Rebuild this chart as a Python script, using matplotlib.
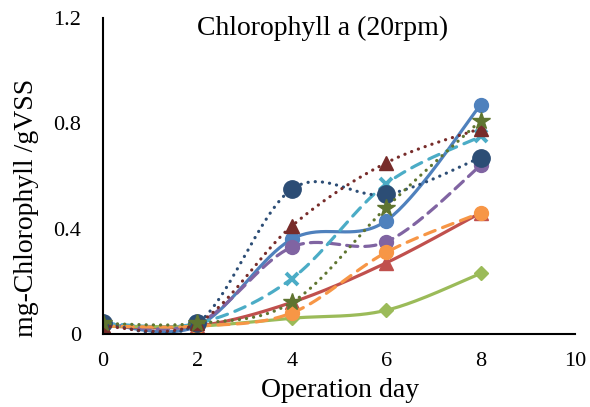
import matplotlib
matplotlib.use("Agg")
import matplotlib.pyplot as plt
import numpy as np

plt.rcParams['font.family'] = 'Liberation Serif'

days = [0, 2, 4, 6, 8]
blue = [0.04, 0.03, 0.36, 0.43, 0.87]
red = [0.03, 0.03, 0.12, 0.27, 0.46]
green = [0.03, 0.03, 0.06, 0.09, 0.23]
purple = [0.04, 0.04, 0.33, 0.35, 0.64]
cyan = [0.04, 0.04, 0.21, 0.57, 0.75]
orange = [0.03, 0.03, 0.08, 0.31, 0.46]
navy = [0.04, 0.04, 0.55, 0.53, 0.67]
maroon = [0.03, 0.04, 0.41, 0.65, 0.78]
olive = [0.04, 0.04, 0.12, 0.48, 0.81]


def smooth(xs, ys, n=40):
    # excel-ish smoothed line (bezier through points)
    pts = np.column_stack([xs, ys]).astype(float)
    p = np.vstack([pts[0], pts, pts[-1]])
    out = []
    t = np.linspace(0, 1, n)[:, None]
    for i in range(1, len(p) - 2):
        p0, p1, p2, p3 = p[i - 1], p[i], p[i + 1], p[i + 2]
        b1 = p1 + (p2 - p0) / 6
        b2 = p2 - (p3 - p1) / 6
        out.append((1 - t)**3 * p1 + 3 * (1 - t)**2 * t * b1 + 3 * (1 - t) * t**2 * b2 + t**3 * p2)
    return np.vstack(out)


fig = plt.figure(figsize=(5.9, 4.07), dpi=100)
ax = fig.add_axes([0.1746, 0.1794, 0.8, 0.7764])

lw = 2.3
series = [
    (blue, '#4F81BD', '-', 'o', 10),
    (red, '#C0504D', '-', '^', 9.5),
    (green, '#9BBB59', '-', 'D', 7.5),
    (purple, '#8064A2', (0, (3.5, 2.2)), 'o', 10),
    (cyan, '#4BACC6', (0, (3.5, 2.5)), 'x', 8),
    (orange, '#F79646', (0, (3.5, 2.5)), 'o', 10),
    (navy, '#2C4D75', (0, (0.05, 2.2)), 'o', 12.5),
    (maroon, '#772C2A', (0, (0.05, 2.2)), '^', 10),
    (olive, '#5F7530', (0, (0.05, 2.2)), '*', 13),
]

for vals, col, ls, mk, ms in series:
    c = smooth(days, vals)
    ax.plot(c[:, 0], c[:, 1], color=col, lw=lw, ls=ls, dash_capstyle='round')
    mew = 2.8 if mk == 'x' else 1
    ax.plot(days, vals, ls='none', marker=mk, ms=ms, color=col, mec=col, mew=mew)

ax.set_xlim(0, 10)
ax.set_ylim(0, 1.2)
ax.set_xticks([0, 2, 4, 6, 8, 10])
ax.set_yticks([0, 0.4, 0.8, 1.2])
ax.set_yticklabels(['0', '0.4', '0.8', '1.2'])
ax.tick_params(length=0, labelsize=16)
ax.tick_params(axis='x', pad=13)
ax.tick_params(axis='y', pad=16)
for s in ['top', 'right']:
    ax.spines[s].set_visible(False)
for s in ['left', 'bottom']:
    ax.spines[s].set_linewidth(1.5)
    ax.spines[s].set_color('black')

fig.text(340 / 590, 10 / 407, 'Operation day', fontsize=20, ha='center', va='baseline')
fig.text(27 / 590, 0.5 - 0.5 * (70 + 345 - 407) / 407, 'mg-Chlorophyll /gVSS', fontsize=20,
         rotation=90, ha='center', va='center')
fig.text(323 / 590, (407 - 35) / 407, 'Chlorophyll a (20rpm)', fontsize=20, ha='center', va='baseline')

fig.savefig('out.png', dpi=100)
